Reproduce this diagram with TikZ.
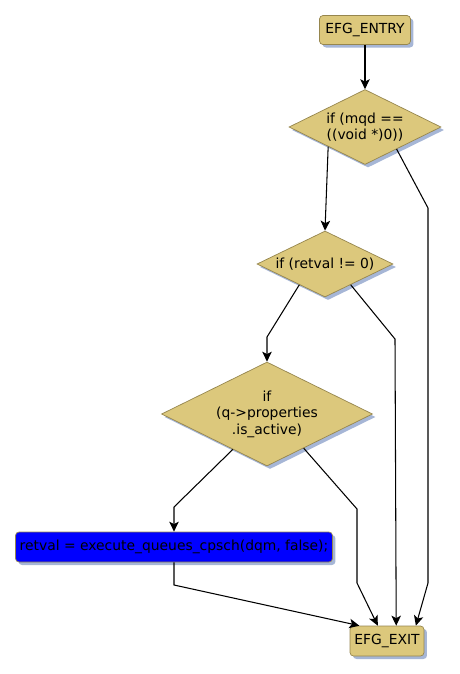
\documentclass[tikz,border=0pt]{standalone}
\usepackage{fontspec}
\setmainfont{DejaVu Sans}
\usepackage{tikz}
\usetikzlibrary{arrows.meta,shapes.geometric,shadows}
\usepackage{xcolor}
\definecolor{efgfill}{RGB}{220,200,124}
\definecolor{efgink}{RGB}{150,134,78}
\definecolor{efgshade}{RGB}{166,182,214}
\definecolor{efgblue}{RGB}{0,0,255}

\begin{document}
\begin{tikzpicture}[
  x=0.02cm, y=-0.02cm,
  font=\fontsize{7.9}{9.4}\selectfont,
  shade/.style={drop shadow={shadow xshift=0.06cm, shadow yshift=-0.06cm,
    fill=efgshade, opacity=1}},
  term/.style={draw=efgink, fill=efgfill, rounded corners=2pt, shade,
    inner sep=0pt, minimum height=0.58cm, align=center},
  cond/.style={diamond, aspect=2, draw=efgink, fill=efgfill, shade,
    inner sep=0pt, align=center},
  stmt/.style={draw=efgink, fill=efgblue, rounded corners=2pt, shade,
    inner sep=0pt, minimum height=0.6cm, minimum width=6.34cm},
  arr/.style={-{Stealth[length=2mm, width=1.9mm, inset=0.5mm]}, line width=0.6pt}
]
\useasboundingbox (0,0) rectangle (460,674);

\node[term, minimum width=1.82cm] (entry) at (365,30) {EFG\_ENTRY};
\node[cond, minimum width=3.04cm, minimum height=1.5cm] (d1) at (365,127)
  {if (mqd ==\\((void *)0))};
\node[cond, minimum width=2.72cm, minimum height=1.32cm] (d2) at (325,264)
  {if (retval != 0)};
\node[cond, minimum width=4.22cm, minimum height=2.08cm] (d3) at (267,414)
  {if\\(q->properties\\.is\_active)};
\node[stmt] (call) at (174,547) {retval = execute\_queues\_cpsch(dqm, false);};
\node[term, minimum width=1.48cm, minimum height=0.6cm] (exit) at (387,641) {EFG\_EXIT};

\draw[arr] (entry) -- (d1);
\draw[arr] (d1.208) -- (d2.north);
\draw[arr] (d1.325) -- (428,208) -- (428,583) -- (exit.28);
\draw[arr] (d2.219) -- (267,337) -- (d3.north);
\draw[arr] (d2.321) -- (395,339) -- (exit.59);
\draw[arr] (d3.226) -- (174,507) -- (call.north);
\draw[arr] (d3.317) -- (357,509) -- (357,583) -- (exit.121);
\draw[arr] (call.south) -- (174,585) -- (exit.151);
\end{tikzpicture}
\end{document}
